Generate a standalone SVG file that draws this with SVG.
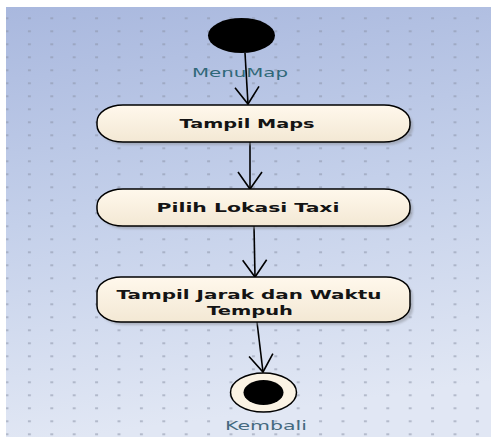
<svg xmlns="http://www.w3.org/2000/svg" width="491" height="437" viewBox="0 0 491 437">
  <defs>
    <linearGradient id="canvasFill" x1="0" y1="0" x2="0.15" y2="1">
      <stop offset="0" stop-color="#a9b8de"/>
      <stop offset="0.5" stop-color="#c4d0ea"/>
      <stop offset="1" stop-color="#e1e7f4"/>
    </linearGradient>
    <pattern id="gridDots" x="5.5" y="17.5" width="22.4" height="13" patternUnits="userSpaceOnUse">
      <rect x="0" y="0" width="3" height="1.4" fill="#8a93a6" opacity="0.75"/>
    </pattern>
    <linearGradient id="actionFill" x1="0" y1="0" x2="0" y2="1">
      <stop offset="0" stop-color="#fff8ec"/>
      <stop offset="1" stop-color="#f3e8d4"/>
    </linearGradient>
    <filter id="dropShadow" x="-10%" y="-20%" width="120%" height="160%">
      <feGaussianBlur stdDeviation="1.2"/>
    </filter>
    <marker id="openArrow" markerUnits="userSpaceOnUse" markerWidth="30" markerHeight="30" refX="0" refY="0" orient="auto" overflow="visible">
      <path d="M-17,-12 L0,0 L-17,12" fill="none" stroke="#000" stroke-width="1.6"/>
    </marker>
    <style>
      .action-shadow { fill: #8f939c; opacity: 0.55; filter: url(#dropShadow); }
      .action { fill: url(#actionFill); stroke: #000; stroke-width: 1.5; }
      .action-label { font-family: "DejaVu Sans", Verdana, sans-serif; font-weight: bold; font-size: 13px; fill: #141414; text-anchor: middle; }
      .node-label { font-family: "DejaVu Sans", Verdana, sans-serif; font-size: 12.5px; text-anchor: middle; }
      .flow { fill: none; stroke: #000; stroke-width: 1.6; marker-end: url(#openArrow); }
    </style>
  </defs>

  <!-- canvas -->
  <rect x="0" y="0" width="491" height="437" fill="#ffffff"/>
  <rect x="6" y="7" width="485" height="430" fill="url(#canvasFill)"/>
  <rect x="6" y="7" width="485" height="430" fill="url(#gridDots)"/>

  <!-- control flows -->
  <g id="connectors">
    <path class="flow" d="M245,53 L248,104"/>
    <path class="flow" d="M250,142 L250,189"/>
    <path class="flow" d="M254,226 L255,277"/>
    <path class="flow" d="M257,322 L263,372"/>
  </g>

  <!-- initial node -->
  <g id="start">
    <ellipse cx="241.5" cy="35.5" rx="33.5" ry="17.5" fill="#000"/>
    <text class="node-label" x="240" y="77" fill="#2f6878" textLength="96" lengthAdjust="spacingAndGlyphs">MenuMap</text>
  </g>

  <!-- actions -->
  <g id="tampil-maps">
    <rect class="action-shadow" x="100" y="108" width="313" height="37" rx="26" ry="17"/>
    <rect class="action" x="97" y="105" width="313" height="37" rx="26" ry="17"/>
    <text class="action-label" x="247" y="128" textLength="135" lengthAdjust="spacingAndGlyphs">Tampil Maps</text>
  </g>

  <g id="pilih-lokasi-taxi">
    <rect class="action-shadow" x="100" y="192" width="313" height="37" rx="26" ry="17"/>
    <rect class="action" x="97" y="189" width="313" height="37" rx="26" ry="17"/>
    <text class="action-label" x="248" y="212" textLength="183" lengthAdjust="spacingAndGlyphs">Pilih Lokasi Taxi</text>
  </g>

  <g id="tampil-jarak-waktu">
    <rect class="action-shadow" x="100" y="280" width="313" height="45" rx="24" ry="16"/>
    <rect class="action" x="97" y="277" width="313" height="45" rx="24" ry="16"/>
    <text class="action-label" x="249" y="299" textLength="265" lengthAdjust="spacingAndGlyphs">Tampil Jarak dan Waktu</text>
    <text class="action-label" x="250" y="315" textLength="86" lengthAdjust="spacingAndGlyphs">Tempuh</text>
  </g>

  <!-- final node -->
  <g id="end">
    <ellipse cx="263.5" cy="392.5" rx="33" ry="19.5" fill="#fbf3e4" stroke="#000" stroke-width="1.5"/>
    <ellipse cx="263.5" cy="392.5" rx="20" ry="12.5" fill="#000"/>
    <text class="node-label" x="266" y="430" fill="#456a80" textLength="82" lengthAdjust="spacingAndGlyphs">Kembali</text>
  </g>
</svg>
